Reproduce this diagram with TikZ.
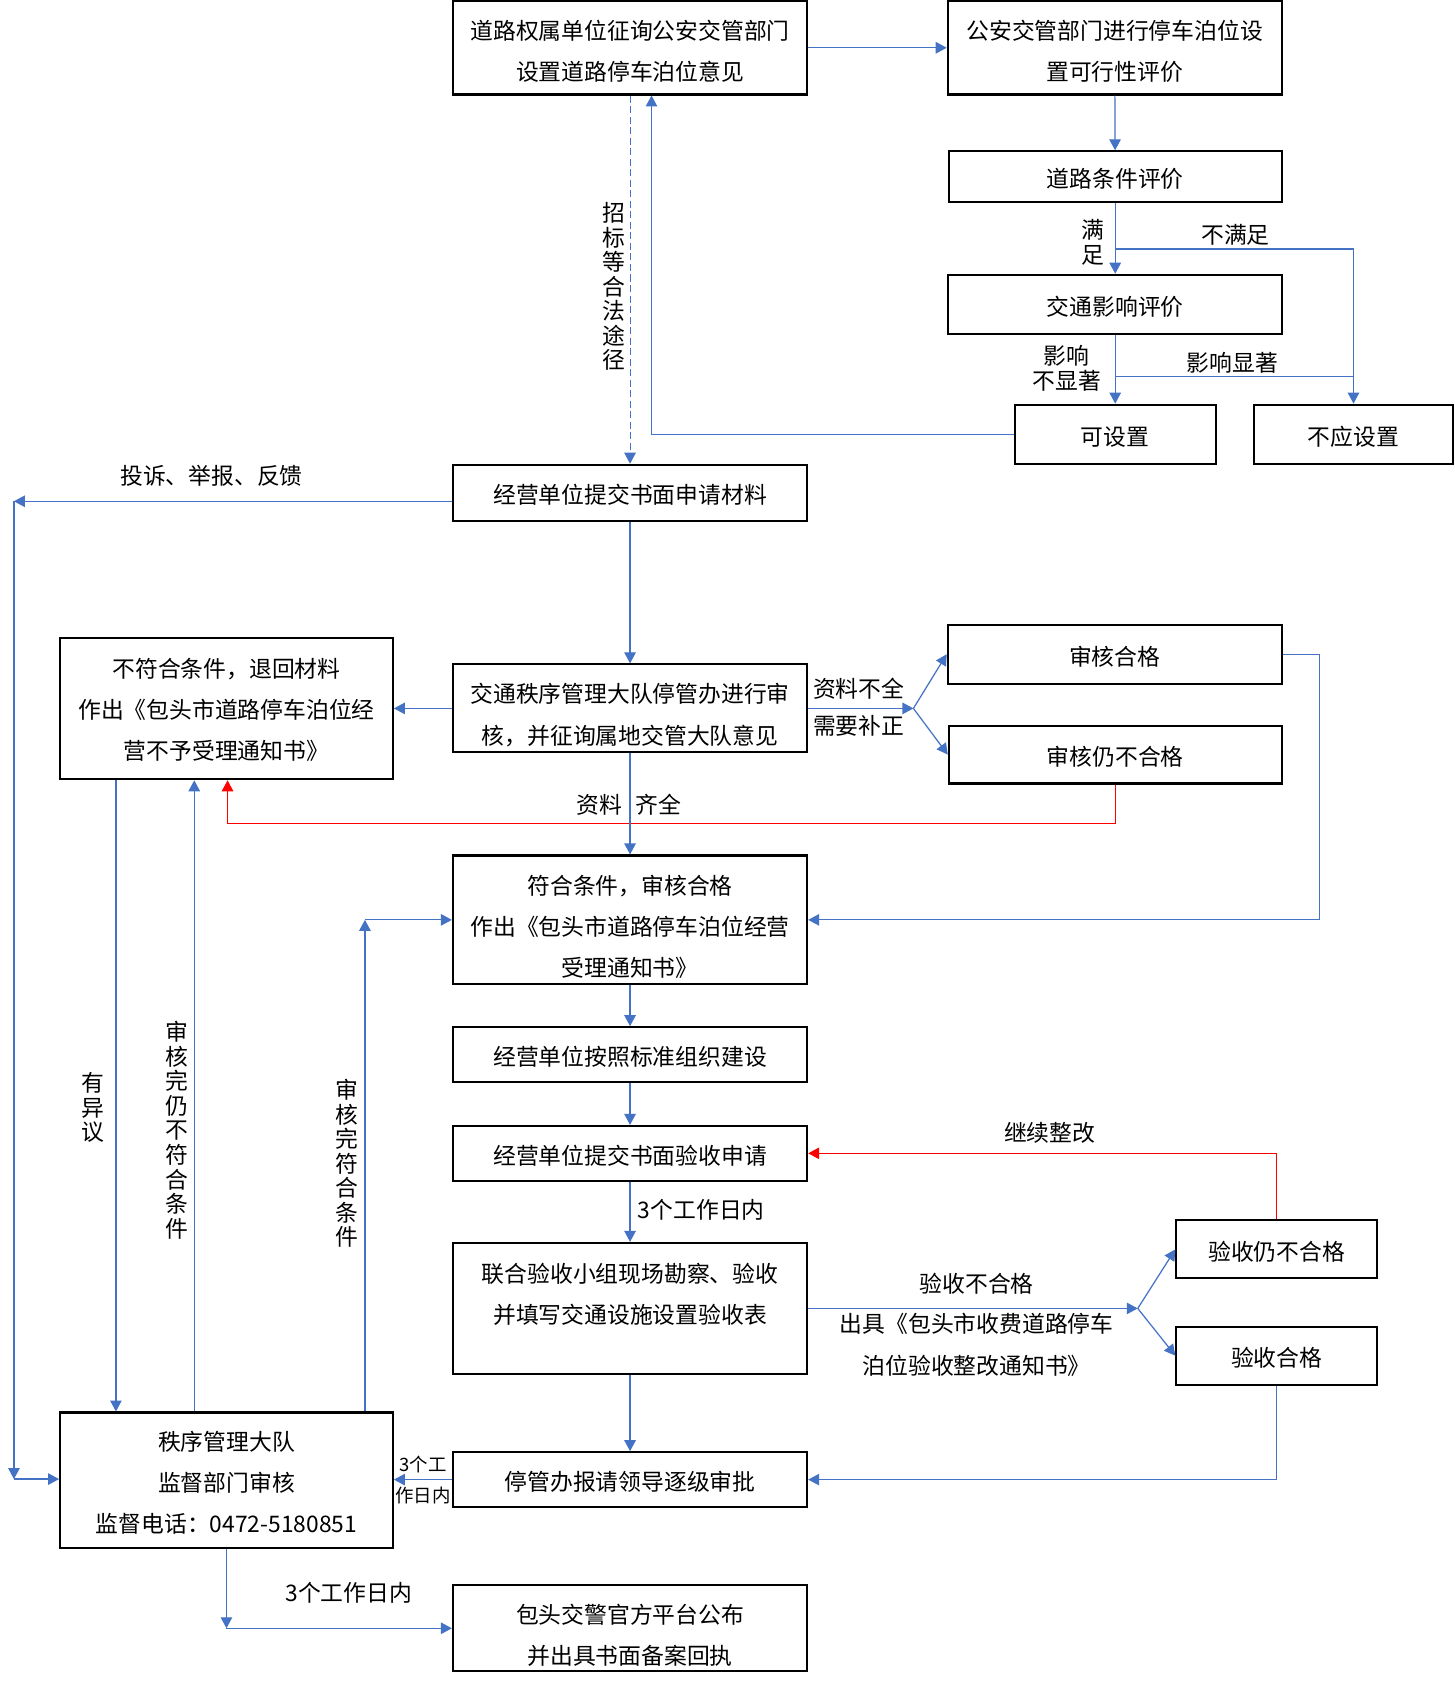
\documentclass[tikz,border=0pt]{standalone}
\usepackage{fontspec}
\setmainfont{Noto Sans CJK SC}
\usetikzlibrary{arrows.meta}
\definecolor{flowblue}{HTML}{4472C4}
\definecolor{flowred}{HTML}{FF0000}
\newcommand{\pxu}{0.0215cm}
\newcommand{\lift}[1]{\rule{0pt}{#1}}
\tikzset{
  box/.style={draw=black, line width=1.2pt, align=center, inner sep=0pt,
    font=\fontsize{13pt}{23.5pt}\selectfont, execute at begin node={\rule{0pt}{13.5pt}}},
  widebox/.style={box, minimum width=330*\pxu},
  midbox/.style={box, minimum width=310*\pxu},
  smallbox/.style={box, minimum width=187*\pxu},
  flow/.style={draw=flowblue, line width=0.7pt, -{Triangle[length=2.2mm,width=2.3mm]}},
  redflow/.style={flow, draw=flowred},
  plain/.style={draw=flowblue, line width=0.7pt},
  lbl/.style={inner sep=0pt, font=\fontsize{13pt}{16pt}\selectfont},
  vlbl/.style={inner sep=0pt, align=center, font=\fontsize{13pt}{14pt}\selectfont},
}

\begin{document}
\begin{tikzpicture}[x=\pxu, y=-\pxu]
\useasboundingbox (0,0) rectangle (1355,1568);
\fill[white] (0,0) rectangle (1355,1568);

% boxes
\node[widebox, minimum height=87*\pxu] (road) at (587,44.5) {\lift{15pt}道路权属单位征询公安交管部门\\设置道路停车泊位意见};
\node[midbox, minimum width=311*\pxu, minimum height=87*\pxu] (feasible) at (1038.5,44.5) {\lift{15pt}公安交管部门进行停车泊位设\\置可行性评价};
\node[midbox, minimum height=47*\pxu] (roadcond) at (1039,164.5) {道路条件评价};
\node[midbox, minimum width=311*\pxu, minimum height=55*\pxu] (traffic) at (1039,283.5) {交通影响评价};
\node[smallbox, minimum height=55*\pxu] (allowed) at (1039,404.5) {可设置};
\node[smallbox, minimum width=186*\pxu, minimum height=55*\pxu] (denied) at (1261,404.5) {不应设置};
\node[widebox, minimum height=52*\pxu] (apply) at (587,459) {经营单位提交书面申请材料};
\node[widebox, minimum height=82*\pxu] (review) at (587,660) {\lift{18.6pt}交通秩序管理大队停管办进行审\\核，并征询属地交管大队意见};
\node[midbox, minimum height=132*\pxu] (reject) at (211,660) {\lift{12.5pt}不符合条件，退回材料\\作出《包头市道路停车泊位经\\营不予受理通知书》};
\node[midbox, minimum width=311*\pxu, minimum height=55*\pxu] (pass) at (1038.5,609.5) {审核合格};
\node[midbox, minimum height=54*\pxu] (fail) at (1039,703) {审核仍不合格};
\node[widebox, minimum height=120*\pxu] (accept) at (587,857) {\lift{19.2pt}符合条件，审核合格\\作出《包头市道路停车泊位经营\\受理通知书》};
\node[widebox, minimum height=51*\pxu] (build) at (587,982.5) {经营单位按照标准组织建设};
\node[widebox, minimum height=51*\pxu] (submit) at (587,1074.5) {经营单位提交书面验收申请};
\node[widebox, minimum height=122*\pxu] (inspect) at (587,1219) {\lift{17.4pt}联合验收小组现场勘察、验收\\并填写交通设施设置验收表\\\mbox{}};
\node[smallbox, minimum height=54*\pxu] (refail) at (1189.5,1164) {验收仍不合格};
\node[smallbox, minimum height=54*\pxu] (checked) at (1189.5,1263) {验收合格};
\node[widebox, minimum height=51*\pxu] (approve) at (587,1378.5) {停管办报请领导逐级审批};
\node[midbox, minimum height=126*\pxu] (team) at (211,1379) {\lift{13.7pt}秩序管理大队\\监督部门审核\\监督电话：0472-5180851};
\node[widebox, minimum height=80*\pxu] (publish) at (587,1517) {\lift{19.2pt}包头交警官方平台公布\\并出具书面备案回执};

% helper points
\coordinate (roadfork) at (1039,232);
\coordinate (trafficfork) at (1039,351);
\coordinate (backup) at (607,0);
\coordinate (lefttop) at (13,467);
\coordinate (leftbot) at (13,1378);
\coordinate (reviewfork) at (851,660);
\coordinate (passbend) at (1229,857);
\coordinate (redbend) at (212,767);
\coordinate (inspectfork) at (1060,1219);
\coordinate (objline) at (108,0);
\coordinate (stillline) at (181,0);
\coordinate (okline) at (340,0);

% connectors
\draw[flow] (road) -- (feasible);
\draw[flow] (feasible) -- (roadcond);
\draw[flow] (roadcond) -- (traffic);
\draw[flow] (roadfork) -| (denied.north);
\draw[flow] (traffic) -- (allowed);
\draw[plain] (trafficfork) -- (trafficfork -| denied.north);
\draw[flow] (allowed.west) -| (backup |- road.south);
\draw[flow, line width=0.6pt, dash pattern=on 4pt off 2pt] (road.south) -- (apply.north);
\draw[flow] (apply.west |- lefttop) -- (lefttop);
\draw[flow] (lefttop) -- (leftbot);
\draw[flow] (leftbot) -- (team.west |- leftbot);
\draw[flow] (apply) -- (review);
\draw[flow] (review) -- (reject);
\draw[flow] (review.east) -- (reviewfork);
\draw[flow] (reviewfork) -- (pass.west);
\draw[flow] (reviewfork) -- (fail.west);
\draw[flow] (pass.east) -| (passbend) -- (accept.east);
\draw[redflow] (fail.south) |- (redbend) -- (redbend |- reject.south);
\draw[flow] (review) -- (accept);
\draw[flow] (accept) -- (build);
\draw[flow] (build) -- (submit);
\draw[flow] (submit) -- (inspect);
\draw[flow] (inspect.east) -- (inspectfork);
\draw[flow] (inspectfork) -- (refail.west);
\draw[flow] (inspectfork) -- (checked.west);
\draw[redflow] (refail.north) |- (submit.east);
\draw[flow] (checked.south) |- (approve.east);
\draw[flow] (inspect) -- (approve);
\draw[flow] (approve) -- (team.east |- approve.west);
\draw[flow] (reject.south -| objline) -- (team.north -| objline);
\draw[flow] (team.north -| stillline) -- (reject.south -| stillline);
\draw[flow] (team.north -| okline) -- (okline |- accept.west);
\draw[flow] (okline |- accept.west) -- (accept.west);
\draw[flow] (team.south) -- (team.south |- publish.west);
\draw[flow] (team.south |- publish.west) -- (publish.west);

% labels
\node[vlbl, anchor=east] (satisfied) at (1029,226) {满\\足};
\node[lbl] (unsatisfied) at (1151,219) {不满足};
\node[vlbl, anchor=east] (minor) at (1026,343) {影响\\不显著};
\node[lbl] (major) at (1148,338) {影响显著};
\node[vlbl] (tender) at (572,267) {招\\标\\等\\合\\法\\途\\径};
\node[lbl] (complain) at (197,443) {投诉、举报、反馈};
\node[lbl] (incomplete) at (800,642) {资料不全};
\node[lbl] (supplement) at (800,676) {需要补正};
\node[lbl] (complete) at (586,750) {资料\hspace{0.26cm}齐全};
\node[lbl, anchor=west] (threedays) at (594,1127) {3个工作日内};
\node[lbl] (continuefix) at (978,1055) {继续整改};
\node[lbl] (notpassed) at (910,1196) {验收不合格};
\node[lbl, align=center, font=\fontsize{13pt}{23.5pt}\selectfont] (notice) at (910,1253) {出具《包头市收费道路停车\\泊位验收整改通知书》};
\node[inner sep=0pt, align=center, font=\fontsize{10.5pt}{18pt}\selectfont] (threedayssmall) at (394,1379) {3个工\\作日内};
\node[vlbl] (objection) at (87,1032) {有\\异\\议};
\node[vlbl] (stillfail) at (165,1053) {审\\核\\完\\仍\\不\\符\\合\\条\\件};
\node[vlbl] (nowok) at (323,1084) {审\\核\\完\\符\\合\\条\\件};
\node[lbl] (threedayspub) at (325,1484) {3个工作日内};
\end{tikzpicture}
\end{document}
